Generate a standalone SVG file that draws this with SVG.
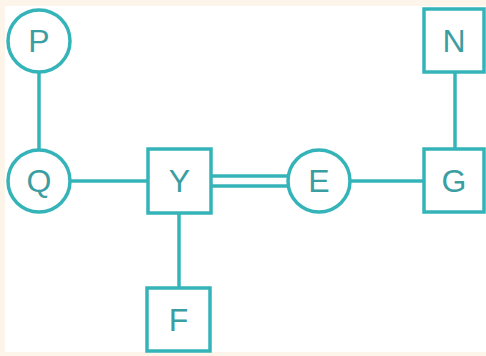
<svg xmlns="http://www.w3.org/2000/svg" width="486" height="356" viewBox="0 0 486 356">
<style>
.n{fill:#ffffff;stroke:#34b4b9;stroke-width:3.5}
.c line{stroke:#34b4b9;stroke-width:3.5}
text{font-family:"Liberation Sans",Arial,sans-serif;font-size:32px;fill:#3a9ea2;text-anchor:middle;dominant-baseline:central}
</style>
<rect x="0" y="0" width="486" height="356" fill="#fdf5ea"/>
<rect x="5" y="6" width="481" height="346" fill="#ffffff"/>
<g class="c">
<line x1="39" y1="72" x2="39" y2="150"/>
<line x1="70" y1="181" x2="148" y2="181"/>
<line x1="211" y1="176" x2="288" y2="176"/>
<line x1="211" y1="186" x2="288" y2="186"/>
<line x1="350" y1="181" x2="424" y2="181"/>
<line x1="455" y1="72" x2="455" y2="149"/>
<line x1="179" y1="213" x2="179" y2="288"/>
</g>
<g id="P"><circle class="n" cx="39" cy="41" r="31"/><text x="39" y="41">P</text></g>
<g id="Q"><circle class="n" cx="39" cy="181" r="31"/><text x="39" y="181">Q</text></g>
<g id="Y"><rect class="n" x="148" y="149" width="63" height="64"/><text x="179.5" y="181">Y</text></g>
<g id="E"><circle class="n" cx="319" cy="181" r="31"/><text x="319" y="181">E</text></g>
<g id="G"><rect class="n" x="424" y="149" width="60" height="63"/><text x="454" y="181">G</text></g>
<g id="N"><rect class="n" x="424" y="9" width="60" height="63"/><text x="454" y="41">N</text></g>
<g id="F"><rect class="n" x="147" y="288" width="63" height="63"/><text x="178.5" y="320">F</text></g>
</svg>
